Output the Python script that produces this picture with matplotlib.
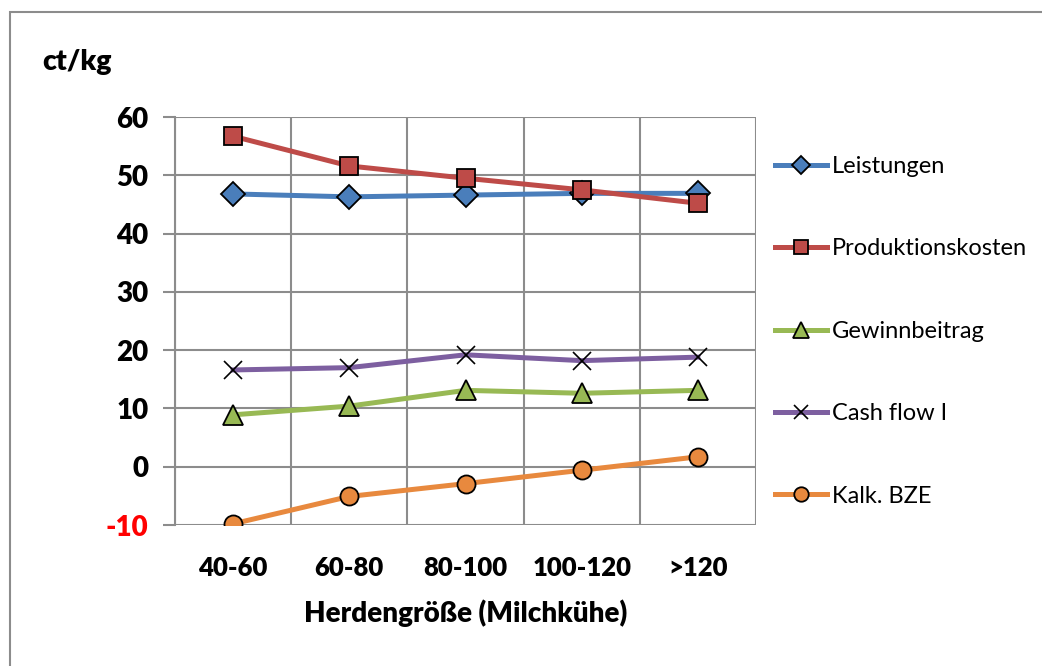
import matplotlib.pyplot as plt
from matplotlib.patches import Rectangle

plt.rcParams['font.family'] = ['Lato', 'DejaVu Sans']

categories = ['40-60', '60-80', '80-100', '100-120', '>120']
leistungen = [46.8, 46.3, 46.6, 46.9, 46.9]
produktionskosten = [56.7, 51.6, 49.5, 47.5, 45.2]
gewinnbeitrag = [8.9, 10.4, 13.1, 12.6, 13.1]
cash_flow = [16.6, 17.0, 19.2, 18.2, 18.8]
kalk_bze = [-9.8, -5.1, -2.9, -0.6, 1.7]
y_ticks = [-10, 0, 10, 20, 30, 40, 50, 60]

fig = plt.figure(figsize=(10.42, 6.66), dpi=100)
fig.patches.append(Rectangle((10 / 1042, -0.05), 1.1, 1 - 12 / 666 + 0.05,
                             transform=fig.transFigure, fill=False,
                             edgecolor='#8c8c8c', linewidth=1.5))

ax = fig.add_axes([175 / 1042, 1 - 525 / 666, 581 / 1042, 408 / 666])

x = range(len(categories))
series = [
    ('Leistungen', leistungen, '#4A7EBB', 'D', 12),
    ('Produktionskosten', produktionskosten, '#BE4B48', 's', 13),
    ('Gewinnbeitrag', gewinnbeitrag, '#98B954', '^', 14),
    ('Cash flow I', cash_flow, '#7D5FA0', 'x', 13),
    ('Kalk. BZE', kalk_bze, '#E8893E', 'o', 13),
]
for name, vals, col, mk, ms in series:
    if mk == 'x':
        ax.plot(x, vals, color=col, linewidth=3.6, marker=mk, markersize=ms,
                markeredgecolor='black', markeredgewidth=1.2, label=name)
    else:
        ax.plot(x, vals, color=col, linewidth=3.6, marker=mk, markersize=ms,
                markerfacecolor=col, markeredgecolor='black',
                markeredgewidth=1.3, label=name)

ax.set_xlim(-0.5, 4.5)
ax.set_ylim(-10, 60)
ax.set_yticks(y_ticks)
ax.set_yticklabels([str(v) for v in y_ticks], fontsize=20, fontweight='heavy')
ax.get_yticklabels()[0].set_color('red')
ax.set_xticks(x)
ax.set_xticklabels(categories, fontsize=18.5, fontweight='heavy')
ax.set_xticks([i + 0.5 for i in range(-1, 5)], minor=True)
ax.tick_params(axis='x', which='major', length=0, pad=22)
ax.tick_params(axis='x', which='minor', length=0)
ax.tick_params(axis='y', length=9, width=1.5, color='#8c8c8c', pad=10)
ax.grid(True, which='minor', axis='x', color='#8c8c8c', linewidth=1.5)
ax.grid(True, which='major', axis='y', color='#8c8c8c', linewidth=1.5)
for s in ax.spines.values():
    s.set_color('#8c8c8c')
    s.set_linewidth(1.5)
ax.spines['top'].set_visible(False)
ax.spines['right'].set_visible(False)
ax.spines['bottom'].set_visible(False)

ax.set_xlabel('Herdengröße (Milchkühe)', fontsize=20, fontweight='heavy',
              labelpad=14)
fig.text(42 / 1042, 1 - 62 / 666, 'ct/kg', fontsize=20.5, fontweight='heavy',
         va='center', ha='left')

fig.legend(loc='upper left', bbox_to_anchor=(775 / 1042, 1 - 156 / 666),
           frameon=False, fontsize=17, labelspacing=2.6, handlelength=2.2,
           handletextpad=0.2, borderpad=0, borderaxespad=0, markerscale=0.8)

fig.savefig('out.png', dpi=100)
